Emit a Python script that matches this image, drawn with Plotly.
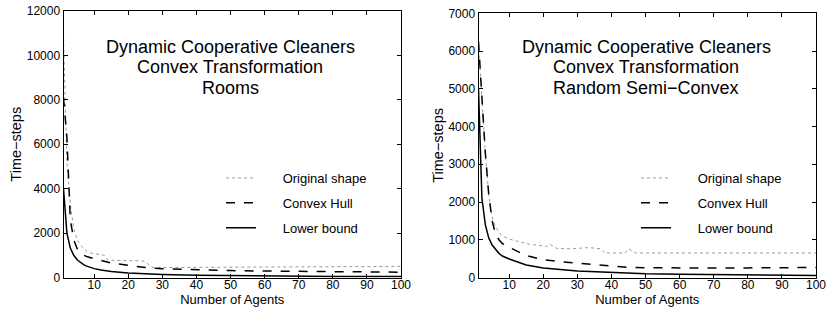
import plotly.graph_objects as go

# ---------------- data ----------------
# Left panel: Rooms
rooms_orig_x = [1, 2, 3, 4, 5, 6, 7, 8, 9, 10, 12, 13, 14, 20, 24, 25, 27, 30, 40, 50, 60, 70, 80, 90, 100]
rooms_orig_y = [10800, 5200, 3300, 2200, 1700, 1450, 1300, 1150, 1100, 1080, 1050, 1000, 780, 760, 750, 700, 460, 450, 460, 470, 480, 490, 490, 500, 500]

rooms_hull_x = [1, 2, 3, 4, 5, 6, 7, 8, 10, 15, 20, 25, 30, 40, 50, 60, 70, 80, 90, 100]
rooms_hull_y = [8100, 6300, 2600, 1700, 1300, 1100, 1000, 930, 850, 650, 550, 450, 390, 340, 310, 290, 270, 255, 245, 240]

rooms_lb_x = [1, 2, 3, 4, 5, 6, 7, 8, 9, 10, 12, 15, 20, 25, 30, 40, 50, 60, 70, 80, 90, 100]
rooms_lb_y = [4000, 2000, 1330, 1000, 800, 670, 570, 500, 445, 400, 335, 270, 200, 160, 135, 100, 80, 67, 57, 50, 45, 40]

# Right panel: Random Semi-Convex
semi_orig_x = [1, 2, 3, 4, 5, 6, 7, 8, 10, 12, 14, 16, 18, 20, 21, 22, 23, 24, 28, 30, 33, 35, 37, 38, 44, 45, 46, 47, 60, 80, 100]
semi_orig_y = [6200, 4600, 3300, 2200, 1600, 1350, 1200, 1100, 1020, 970, 920, 880, 860, 840, 820, 880, 820, 770, 760, 770, 790, 780, 760, 650, 650, 760, 700, 650, 650, 650, 650]

semi_hull_x = [1, 2, 3, 4, 5, 6, 7, 8, 10, 15, 20, 25, 30, 35, 40, 45, 50, 60, 70, 80, 90, 100]
semi_hull_y = [6250, 4700, 3300, 2200, 1500, 1150, 1000, 900, 800, 580, 470, 420, 380, 340, 300, 270, 260, 250, 250, 255, 260, 265]

semi_lb_x = [1, 2, 3, 4, 5, 6, 7, 8, 10, 15, 20, 30, 40, 50, 60, 70, 80, 90, 100]
semi_lb_y = [5000, 2100, 1400, 1050, 860, 740, 640, 570, 490, 330, 250, 170, 125, 100, 85, 72, 63, 56, 50]

series_names = ["Original shape", "Convex Hull", "Lower bound"]
title_lines = [["Dynamic Cooperative Cleaners", "Convex Transformation", "Rooms"],
               ["Dynamic Cooperative Cleaners", "Convex Transformation", "Random Semi\u2212Convex"]]
x_ticks = [10, 20, 30, 40, 50, 60, 70, 80, 90, 100]
left_y_ticks = [0, 2000, 4000, 6000, 8000, 10000, 12000]
right_y_ticks = [0, 1000, 2000, 3000, 4000, 5000, 6000, 7000]

# ---------------- figure ----------------
W, H = 828, 309
FONT = "Liberation Sans, Arial, Helvetica, sans-serif"
styles = [dict(color="#999999", width=1, dash="dot"),
          dict(color="black", width=1.5, dash="dash"),
          dict(color="black", width=1.5, dash="solid")]
# legend text sits well to the right of its line sample in the reference
pads = ["\u00a0" * 6, "\u00a0" * 6, "\u00a0" * 6]

fig = go.Figure()
panels = [
    ("x", "y", "legend", [(rooms_orig_x, rooms_orig_y), (rooms_hull_x, rooms_hull_y), (rooms_lb_x, rooms_lb_y)]),
    ("x2", "y2", "legend2", [(semi_orig_x, semi_orig_y), (semi_hull_x, semi_hull_y), (semi_lb_x, semi_lb_y)]),
]
for xa, ya, lg, data in panels:
    for i, (xs, ys) in enumerate(data):
        fig.add_trace(go.Scatter(x=xs, y=ys, mode="lines", name=pads[i] + series_names[i],
                                 line=styles[i], xaxis=xa, yaxis=ya, legend=lg,
                                 legendgroup=lg + str(i)))

def px_x(p):
    return p / W

def px_y(p):
    return 1 - p / H

axis_common = dict(showline=True, mirror="allticks", linecolor="black", linewidth=1,
                   ticks="inside", ticklen=4, tickcolor="black", showgrid=False, zeroline=False,
                   tickformat="d", automargin=False,
                   tickfont=dict(size=12, color="black", family=FONT))
xt = dict(text="Number of Agents", font=dict(size=13), standoff=0)
yt = dict(text="Time\u2212steps", font=dict(size=14.5), standoff=1)

fig.update_layout(
    width=W, height=H, margin=dict(l=0, r=0, t=0, b=0, autoexpand=False),
    paper_bgcolor="white", plot_bgcolor="white",
    font=dict(family=FONT, color="black"),
    xaxis=dict(domain=[px_x(63.5), px_x(401)], range=[1, 100], tickvals=x_ticks,
               title=xt, anchor="y", ticklabelstandoff=-4, **axis_common),
    yaxis=dict(domain=[px_y(277.5), px_y(11)], range=[0, 12000], tickvals=left_y_ticks,
               title=yt, anchor="x", **axis_common),
    xaxis2=dict(domain=[px_x(478.5), px_x(816)], range=[1, 100], tickvals=x_ticks,
                title=xt, anchor="y2", ticklabelstandoff=-4, **axis_common),
    yaxis2=dict(domain=[px_y(277.5), px_y(13.3)], range=[0, 7000], tickvals=right_y_ticks,
                title=yt, anchor="x2", **axis_common),
    legend=dict(x=px_x(221), y=px_y(163), xanchor="left", yanchor="top", bgcolor="rgba(0,0,0,0)",
                font=dict(size=13), tracegroupgap=5, itemwidth=30),
    legend2=dict(x=px_x(636), y=px_y(163), xanchor="left", yanchor="top", bgcolor="rgba(0,0,0,0)",
                 font=dict(size=13), tracegroupgap=5, itemwidth=30),
    showlegend=True,
)

line_y = [47, 67, 88]
for cx, lines in ((230, title_lines[0]), (646, title_lines[1])):
    for ly, txt in zip(line_y, lines):
        fig.add_annotation(text=txt, xref="paper", yref="paper", x=px_x(cx), y=px_y(ly),
                           xanchor="center", yanchor="middle", showarrow=False, font=dict(size=18))

fig.write_html("out.html", config={"displayModeBar": False},
               post_script="document.body.style.margin='0px';")
